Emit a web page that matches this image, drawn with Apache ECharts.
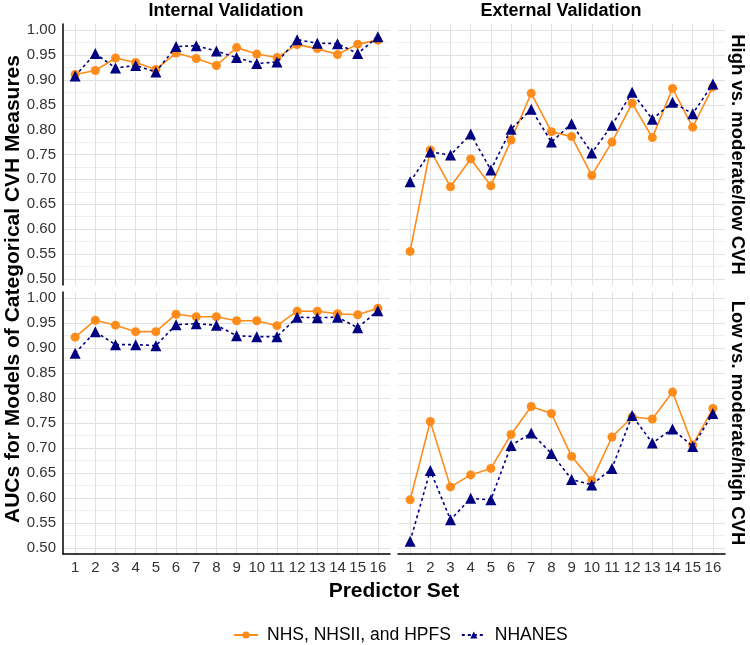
<!DOCTYPE html>
<html>
<head>
<meta charset="utf-8">
<script src="https://cdn.jsdelivr.net/npm/echarts@6/dist/echarts.min.js"></script>
<style>
html,body{margin:0;padding:0;background:#fff;}
#chart{width:750px;height:645px;}
</style>
</head>
<body>
<div id="chart"></div>
<script>
// ---- data ----
const predictorSets = [1,2,3,4,5,6,7,8,9,10,11,12,13,14,15,16];
const yTickLabels = ['0.50','0.55','0.60','0.65','0.70','0.75','0.80','0.85','0.90','0.95','1.00'];
const seriesNames = ['NHS, NHSII, and HPFS', 'NHANES'];
const colTitles = ['Internal Validation', 'External Validation'];
const rowTitles = ['High vs. moderate/low CVH', 'Low vs. moderate/high CVH'];

// High vs. moderate/low CVH
const highInternalNHS    = [0.911,0.919,0.944,0.935,0.921,0.954,0.943,0.929,0.965,0.952,0.945,0.971,0.963,0.951,0.972,0.980];
const highInternalNHANES = [0.908,0.953,0.924,0.929,0.916,0.967,0.969,0.958,0.945,0.933,0.936,0.981,0.974,0.973,0.953,0.987];
const highExternalNHS    = [0.555,0.759,0.685,0.741,0.687,0.779,0.873,0.796,0.786,0.708,0.775,0.853,0.784,0.883,0.805,0.886];
const highExternalNHANES = [0.695,0.755,0.749,0.791,0.719,0.801,0.841,0.775,0.812,0.753,0.809,0.875,0.821,0.855,0.832,0.892];
// Low vs. moderate/high CVH
const lowInternalNHS     = [0.922,0.956,0.946,0.933,0.933,0.968,0.963,0.963,0.955,0.955,0.945,0.974,0.974,0.969,0.967,0.980];
const lowInternalNHANES  = [0.890,0.933,0.907,0.907,0.905,0.947,0.949,0.946,0.925,0.923,0.923,0.962,0.961,0.962,0.941,0.975];
const lowExternalNHS     = [0.596,0.753,0.622,0.646,0.659,0.727,0.783,0.769,0.683,0.635,0.722,0.762,0.758,0.812,0.706,0.779];
const lowExternalNHANES  = [0.513,0.655,0.556,0.599,0.596,0.705,0.730,0.689,0.637,0.626,0.659,0.765,0.710,0.738,0.703,0.769];

// ---- chart ----
const FONT = '"Liberation Sans", Arial, Helvetica, sans-serif';
const ORANGE = '#FF8C1A';
const NAVY = '#000080';
const MAJOR = '#E1E1E1';
const MINOR = '#EFEFEF';

const panels = [
  {left: 63,  top: 24,  height: 261, nhs: highInternalNHS, nh: highInternalNHANES, showY: true,  showX: false},
  {left: 398, top: 24,  height: 261, nhs: highExternalNHS, nh: highExternalNHANES, showY: false, showX: false},
  {left: 63,  top: 292, height: 262, nhs: lowInternalNHS,  nh: lowInternalNHANES,  showY: true,  showX: true},
  {left: 398, top: 292, height: 262, nhs: lowExternalNHS,  nh: lowExternalNHANES,  showY: false, showX: true}
];
const PW = 327;

function isMult(v, step){ const r = v/step; return Math.abs(r - Math.round(r)) < 1e-6; }

const grids = [], xAxes = [], yAxes = [], series = [];
panels.forEach((p, i) => {
  grids.push({left: p.left, top: p.top, width: PW, height: p.height, containLabel: false});
  xAxes.push({
    type: 'value', gridIndex: i, min: 0.4, max: 16.6, interval: 0.2,
    axisLine: {show: p.showX, onZero: false, lineStyle: {color: '#000', width: 1.5}},
    axisTick: {show: false},
    axisLabel: {
      show: p.showX, margin: 6, color: '#333', fontSize: 15, fontFamily: FONT,
      formatter: v => (isMult(v, 1) && predictorSets.indexOf(Math.round(v)) >= 0) ? String(Math.round(v)) : ''
    },
    splitLine: {show: true, lineStyle: {color: ['transparent','transparent','transparent',MAJOR,'transparent'], width: 1}}
  });
  yAxes.push({
    type: 'value', gridIndex: i, min: 0.4875, max: 1.0125, interval: 0.0125,
    axisLine: {show: p.showY, lineStyle: {color: '#000', width: 1.5}},
    axisTick: {show: false},
    axisLabel: {
      show: p.showY, margin: 7, color: '#333', fontSize: 15, fontFamily: FONT,
      formatter: v => { const s = v.toFixed(2); return (isMult(v, 0.05) && yTickLabels.indexOf(s) >= 0) ? s : ''; }
    },
    splitLine: {show: true, lineStyle: {color: ['transparent', MAJOR, 'transparent', MINOR], width: 1}}
  });
  series.push({
    name: seriesNames[0], type: 'line', xAxisIndex: i, yAxisIndex: i,
    data: predictorSets.map((x, k) => [x, p.nhs[k]]),
    symbol: 'circle', symbolSize: 9,
    itemStyle: {color: ORANGE},
    lineStyle: {color: ORANGE, width: 1.6, type: 'solid'},
    z: 3, animation: false
  });
  series.push({
    name: seriesNames[1], type: 'line', xAxisIndex: i, yAxisIndex: i,
    data: predictorSets.map((x, k) => [x, p.nh[k]]),
    symbol: 'triangle', symbolSize: 11,
    itemStyle: {color: NAVY},
    lineStyle: {color: NAVY, width: 1.6, type: [3, 3]},
    z: 4, animation: false
  });
});

const chart = echarts.init(document.getElementById('chart'), null, {renderer: 'canvas'});
chart.setOption({
  backgroundColor: '#fff',
  animation: false,
  grid: grids,
  xAxis: xAxes,
  yAxis: yAxes,
  series: series,
  legend: {
    data: seriesNames,
    top: 621, left: 228,
    itemWidth: 24, itemHeight: 9, itemGap: 10,
    textStyle: {fontFamily: FONT, fontSize: 17.5, color: '#000', padding: [0, 0, 0, 4]}
  },
  graphic: [
    {type: 'text', x: 226, y: 11, style: {text: colTitles[0], font: 'bold 18px ' + FONT, fill: '#000', align: 'center', verticalAlign: 'middle'}, z: 10},
    {type: 'text', x: 561, y: 11, style: {text: colTitles[1], font: 'bold 18px ' + FONT, fill: '#000', align: 'center', verticalAlign: 'middle'}, z: 10},
    {type: 'text', x: 737, y: 154.5, rotation: -Math.PI/2,
     style: {text: rowTitles[0], font: 'bold 18.5px ' + FONT, fill: '#000', align: 'center', verticalAlign: 'middle'}},
    {type: 'text', x: 737, y: 423, rotation: -Math.PI/2,
     style: {text: rowTitles[1], font: 'bold 18.5px ' + FONT, fill: '#000', align: 'center', verticalAlign: 'middle'}},
    {type: 'text', x: 13, y: 289, rotation: Math.PI/2,
     style: {text: 'AUCs for Models of Categorical CVH Measures', font: 'bold 21px ' + FONT, fill: '#000', align: 'center', verticalAlign: 'middle'}},
    {type: 'text', x: 394, y: 591,
     style: {text: 'Predictor Set', font: 'bold 21px ' + FONT, fill: '#000', align: 'center', verticalAlign: 'middle'}}
  ]
});
</script>
</body>
</html>
